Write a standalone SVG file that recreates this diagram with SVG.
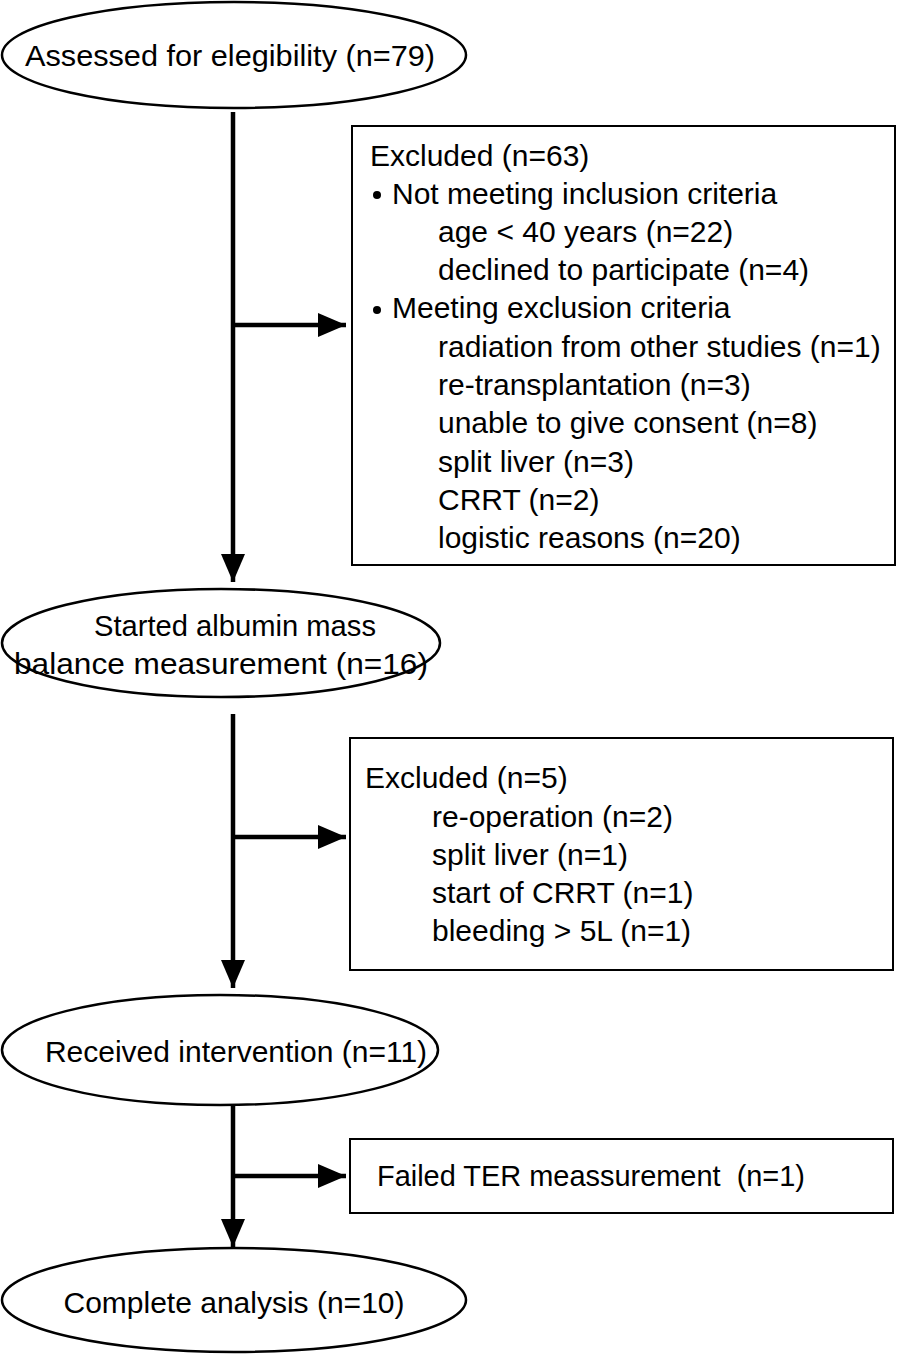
<svg xmlns="http://www.w3.org/2000/svg" width="897" height="1355" viewBox="0 0 897 1355">
<defs>
<marker id="ah" markerUnits="userSpaceOnUse" markerWidth="30" markerHeight="24" refX="28" refY="12" orient="auto">
<path d="M0,0 L28,12 L0,24 Z" fill="#000"/>
</marker>
<style>
.n{fill:#fff;stroke:#000;stroke-width:2.5}
.b{fill:#fff;stroke:#000;stroke-width:2}
.c{stroke:#000;stroke-width:4.5;fill:none}
text{font-family:"Liberation Sans",Arial,sans-serif;font-size:30px;fill:#000}
.m{text-anchor:middle}
</style>
</defs>
<rect width="897" height="1355" fill="#fff"/>
<g id="connectors">
<line class="c" x1="233" y1="112" x2="233" y2="582" marker-end="url(#ah)"/>
<line class="c" x1="233" y1="325" x2="346" y2="325" marker-end="url(#ah)"/>
<line class="c" x1="233" y1="714" x2="233" y2="988" marker-end="url(#ah)"/>
<line class="c" x1="233" y1="837" x2="346" y2="837" marker-end="url(#ah)"/>
<line class="c" x1="233" y1="1105" x2="233" y2="1247" marker-end="url(#ah)"/>
<line class="c" x1="233" y1="1176" x2="346" y2="1176" marker-end="url(#ah)"/>
</g>
<g id="assessed">
<ellipse class="n" cx="234" cy="55" rx="232" ry="53"/>
<text class="m" x="230" y="66" textLength="410" lengthAdjust="spacingAndGlyphs">Assessed for elegibility (n=79)</text>
</g>
<g id="excluded1">
<rect class="b" x="352" y="126" width="543" height="439"/>
<text x="370" y="166">Excluded (n=63)</text>
<circle cx="377" cy="195" r="4"/>
<text x="392" y="204">Not meeting inclusion criteria</text>
<text x="438" y="242">age &lt; 40 years (n=22)</text>
<text x="438" y="280">declined to participate (n=4)</text>
<circle cx="377" cy="310" r="4"/>
<text x="392" y="318">Meeting exclusion criteria</text>
<text x="438" y="357">radiation from other studies (n=1)</text>
<text x="438" y="395">re-transplantation (n=3)</text>
<text x="438" y="433">unable to give consent (n=8)</text>
<text x="438" y="472">split liver (n=3)</text>
<text x="438" y="510">CRRT (n=2)</text>
<text x="438" y="548">logistic reasons (n=20)</text>
</g>
<g id="started">
<ellipse class="n" cx="221" cy="643" rx="219" ry="54"/>
<text class="m" x="235" y="636" textLength="282" lengthAdjust="spacingAndGlyphs">Started albumin mass</text>
<text class="m" x="221" y="674" textLength="414" lengthAdjust="spacingAndGlyphs">balance measurement (n=16)</text>
</g>
<g id="excluded2">
<rect class="b" x="350" y="738" width="543" height="232"/>
<text x="365" y="788">Excluded (n=5)</text>
<text x="432" y="827">re-operation (n=2)</text>
<text x="432" y="865">split liver (n=1)</text>
<text x="432" y="903">start of CRRT (n=1)</text>
<text x="432" y="941">bleeding &gt; 5L (n=1)</text>
</g>
<g id="received">
<ellipse class="n" cx="220" cy="1050" rx="218" ry="55"/>
<text class="m" x="236" y="1062">Received intervention (n=11)</text>
</g>
<g id="failed">
<rect class="b" x="350" y="1139" width="543" height="74"/>
<text x="377" y="1186" xml:space="preserve" textLength="428" lengthAdjust="spacingAndGlyphs">Failed TER meassurement  (n=1)</text>
</g>
<g id="complete">
<ellipse class="n" cx="234" cy="1300" rx="232" ry="52"/>
<text class="m" x="234" y="1313">Complete analysis (n=10)</text>
</g>
</svg>
